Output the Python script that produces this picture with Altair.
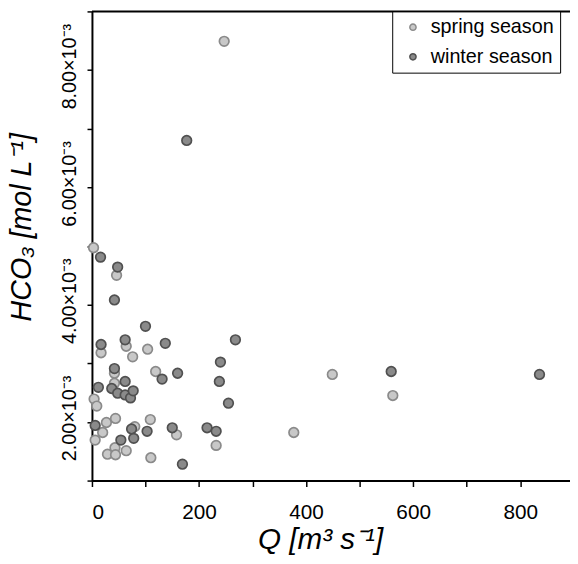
import altair as alt
import pandas as pd

# Discharge Q [m3 s-1] and HCO3 [x1e-3 mol L-1]
spring_q = [247, 3, 46, 17, 64, 104, 76, 42, 119, 42, 4, 9, 27, 44, 20, 6, 80, 109, 158, 232, 43, 29, 44, 64, 110, 449, 562, 377]
spring_hco3 = [8.49, 4.97, 4.50, 3.18, 3.29, 3.24, 3.11, 2.83, 2.86, 2.66, 2.39, 2.27, 1.99, 2.06, 1.82, 1.69, 1.92, 2.04, 1.78, 1.60, 1.56, 1.45, 1.44, 1.51, 1.39, 2.81, 2.45, 1.82]

winter_q = [177, 16, 48, 42, 100, 17, 62, 137, 268, 42, 160, 131, 240, 238, 12, 37, 62, 48, 62, 72, 77, 255, 6, 74, 103, 150, 215, 232, 54, 78, 169, 559, 836]
winter_hco3 = [6.80, 4.81, 4.64, 4.08, 3.63, 3.32, 3.40, 3.34, 3.40, 2.91, 2.83, 2.73, 3.02, 2.69, 2.59, 2.57, 2.69, 2.49, 2.46, 2.41, 2.53, 2.32, 1.94, 1.88, 1.84, 1.90, 1.90, 1.84, 1.69, 1.72, 1.28, 2.86, 2.81]

seasons = ["spring season", "winter season"]
fill_colors = ["#c8c8c8", "#8a8a8a"]
stroke_colors = ["#8a8a8a", "#505050"]

df = pd.DataFrame({
    "Q": spring_q + winter_q,
    "HCO3": [v * 1e-3 for v in spring_hco3 + winter_hco3],
    "season": [seasons[0]] * len(spring_q) + [seasons[1]] * len(winter_q),
    "order": [0] * len(spring_q) + [1] * len(winter_q),
})

FONT = "Liberation Sans"
W, H = 484, 475

xaxis = alt.Axis(
    values=[0, 100, 200, 300, 400, 500, 600, 700, 800],
    labelExpr="datum.value % 200 == 0 ? format(datum.value, 'd') : ''",
    grid=False, domainColor="black", domainWidth=2, tickColor="black", tickWidth=1.5,
    tickSize=6, labelFont=FONT, labelFontSize=21, labelColor="black", labelPadding=15,
    title="Q [m³ s⁻¹]", titleFont=FONT, titleFontSize=30, titleFontStyle="italic",
    titleFontWeight="normal", titleColor="black", titleX=231, titleY=69,
    titleBaseline="alphabetic", titleAlign="center",
)
yaxis = alt.Axis(
    values=[0.001, 0.002, 0.003, 0.004, 0.005, 0.006, 0.007, 0.008, 0.009],
    labelExpr="(round(datum.value*1000) % 2 == 0 && round(datum.value*1000) >= 2 && round(datum.value*1000) <= 8) ? format(datum.value*1000, '.2f') + '×10⁻³' : ''",
    grid=False, domainColor="black", domainWidth=2, tickColor="black", tickWidth=1.5,
    tickSize=5, labelFont=FONT, labelFontSize=20, labelColor="black", labelAngle=-90,
    labelPadding=8, labelOffset=-4,
    title="HCO₃ [mol L⁻¹]", titleFont=FONT, titleFontSize=29, titleFontStyle="italic",
    titleFontWeight="normal", titleColor="black", titleX=-62, titleY=218,
    titleBaseline="alphabetic", titleAlign="center", titleAngle=-90,
)

points = alt.Chart(df).mark_point(filled=True, shape="circle", size=95, strokeWidth=1.7, opacity=1).encode(
    x=alt.X("Q:Q", scale=alt.Scale(domain=[0, 893], nice=False, zero=False), axis=xaxis),
    y=alt.Y("HCO3:Q", scale=alt.Scale(domain=[0.001, 0.009], nice=False, zero=False), axis=yaxis),
    fill=alt.Fill("season:N", scale=alt.Scale(domain=seasons, range=fill_colors), title=None),
    stroke=alt.Stroke("season:N", scale=alt.Scale(domain=seasons, range=stroke_colors), title=None),
    order=alt.Order("order:Q"),
)

top_line = alt.Chart(pd.DataFrame({"a": [0]})).mark_rule(color="black", strokeWidth=2).encode(
    x=alt.value(0), x2=alt.value(W), y=alt.value(0)
)

chart = alt.layer(points, top_line).properties(
    width=W, height=H,
    autosize=alt.AutoSizeParams(type="none"),
    padding={"left": 85, "top": 0, "right": 0, "bottom": 81},
).configure_view(stroke=None).configure_legend(
    orient="none", legendX=304, legendY=0, strokeColor="black", fillColor="white",
    padding=6, rowPadding=10, symbolSize=40, symbolStrokeWidth=1.5, symbolType="circle",
    labelFont=FONT, labelFontSize=20, labelColor="black", symbolOffset=5, labelOffset=8,
)

chart.save("out.html", embed_options={"renderer": "svg", "actions": False})
